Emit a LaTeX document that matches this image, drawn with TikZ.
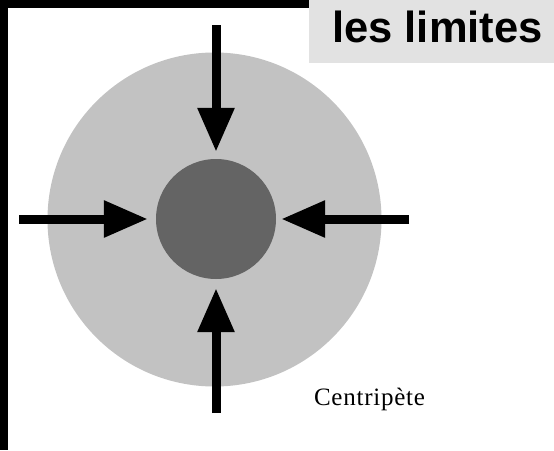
\documentclass[tikz,border=0pt]{standalone}
\usepackage{fontspec}
\setmainfont{Liberation Serif}
\newfontfamily\titlefont{Liberation Sans}
\usepackage{tikz}
\usetikzlibrary{arrows.meta,positioning,calc}
\definecolor{figblack}{HTML}{000000}
\definecolor{figlgrey}{HTML}{C2C2C2}
\definecolor{figdgrey}{HTML}{646464}
\definecolor{figbox}{HTML}{E2E2E2}

\begin{document}
\begin{tikzpicture}[x=1pt,y=-1pt,
  push/.style={-{Triangle[length=44pt,width=35pt]}, line width=9pt, color=figblack, shorten >=7pt}]
\useasboundingbox (0,0) rectangle (554,450);

% frame and title
\fill[figblack] (0,0) rectangle (8,450);
\fill[figblack] (0,0) rectangle (309,8);
\node[
  fill=figbox,
  inner sep=0pt,
  minimum width=245pt,
  minimum height=63pt
] (titlebox) at (431.5,31.5) {};
\node[anchor=base, inner sep=0pt, font=\titlefont\bfseries\fontsize{43.5}{48}\selectfont]
  (title) at (437.5,42) {les limites};

% the two discs
\node[circle, fill=figlgrey, inner sep=0pt, minimum size=334pt] (halo) at (214.5,219.5) {};
\node[circle, fill=figdgrey, inner sep=0pt, minimum size=120pt] (core) at (216,219) {};

\coordinate (ntop) at (216,25);
\coordinate (nbot) at (216,413);
\coordinate (nleft) at (19,219);
\coordinate (nright) at (409,219);

\draw[push] (ntop) -- (core.north);
\draw[push, shorten >=9pt] (nbot) -- (core.south);
\draw[push, shorten >=8pt] (nleft) -- (core.west);
\draw[push, shorten >=5pt] (nright) -- (core.east);

\node[anchor=base, inner sep=0pt, font=\addfontfeature{LetterSpace=3}\fontsize{25}{28}\selectfont]
  (label) at (369.5,405) {Centripète};
\end{tikzpicture}
\end{document}
